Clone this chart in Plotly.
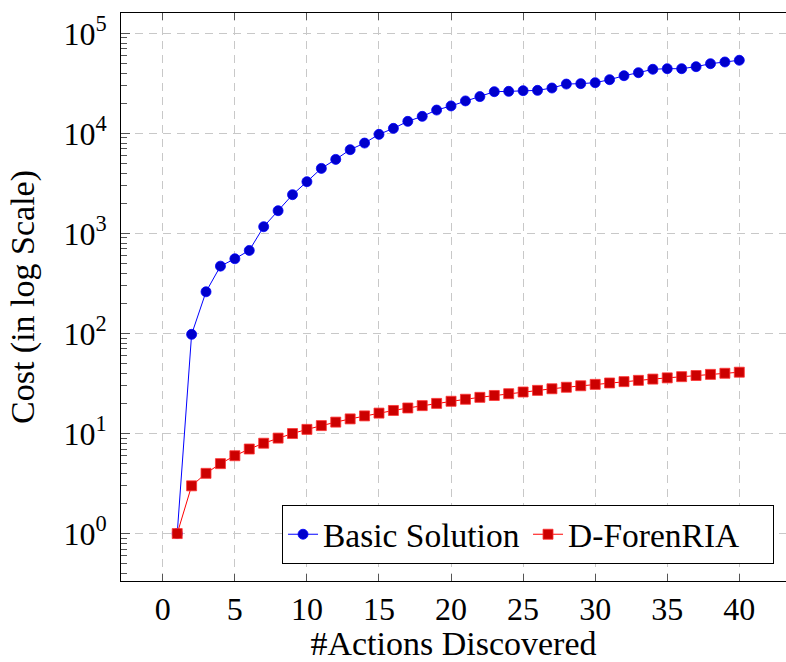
import plotly.graph_objects as go

actions = list(range(1, 41))
basic_solution = [1, 98, 261, 471, 558, 676, 1167, 1687, 2438, 3289,
                  4467, 5495, 6871, 8000, 9772, 11220, 13183, 14791, 17100, 18800,
                  21100, 23300, 26100, 26300, 26700, 26900, 28400, 31100, 31400, 32100,
                  34400, 37700, 40400, 43700, 44300, 44300, 46400, 49700, 51700, 53800]
d_forenria = [1, 3, 4, 5, 6, 7, 8, 9, 10, 11, 12, 13, 14, 15, 16, 17, 18, 19, 20, 21,
              22, 23, 24, 25, 26, 27, 28, 29, 30, 31, 32, 33, 34, 35, 36, 37, 38, 39, 40, 41]

x_ticks = [0, 5, 10, 15, 20, 25, 30, 35, 40]
y_ticks = [1, 10, 100, 1000, 10000, 100000]
y_ticktext = ["10<sup>0</sup>", "10<sup>1</sup>", "10<sup>2</sup>", "10<sup>3</sup>",
              "10<sup>4</sup>", "10<sup>5</sup>"]
y_minor = [k * 10.0 ** n for n in range(-1, 6) for k in range(2, 10)]

FONT = "'Liberation Serif', 'Times New Roman', 'DejaVu Serif', serif"
GRID = "#c8c8c8"

fig = go.Figure()
fig.add_trace(go.Scatter(
    x=actions, y=basic_solution, mode="lines+markers", name="Basic Solution",
    line=dict(color="#0000ff", width=1),
    marker=dict(symbol="circle", size=10, color="#0000cc",
                line=dict(color="#0000ff", width=0.8)),
))
fig.add_trace(go.Scatter(
    x=actions, y=d_forenria, mode="lines+markers", name="D-ForenRIA",
    line=dict(color="#ff0000", width=1),
    marker=dict(symbol="square", size=10, color="#cc0000",
                line=dict(color="#ff3333", width=0.8)),
))

fig.update_layout(
    width=786, height=662,
    margin=dict(l=121, r=0, t=13, b=81, autoexpand=False),
    paper_bgcolor="white", plot_bgcolor="white",
    font=dict(family=FONT, size=32, color="black"),
    showlegend=True,
    legend=dict(
        orientation="h", x=0.982, y=0.03, xanchor="right", yanchor="bottom",
        bgcolor="white", bordercolor="black", borderwidth=1,
        font=dict(family=FONT, size=33.5, color="black"),
        itemwidth=30, tracegroupgap=0, entrywidth=200,
    ),
    xaxis=dict(
        range=[-2.9, 43.24], tickmode="array", tickvals=x_ticks,
        ticks="inside", ticklen=7, tickcolor="#555555", tickwidth=1,
        showline=True, linecolor="black", linewidth=1, mirror="ticks",
        showgrid=True, gridcolor=GRID, gridwidth=1, griddash="8px,6px",
        zeroline=False, ticklabelstandoff=0, automargin=False,
        title=dict(text="#Actions Discovered", standoff=6,
                   font=dict(family=FONT, size=34, color="black")),
    ),
    yaxis=dict(
        type="log", range=[-0.474, 5.203], tickmode="array",
        tickvals=y_ticks, ticktext=y_ticktext,
        ticks="inside", ticklen=9, tickcolor="#555555", tickwidth=1,
        showline=True, linecolor="black", linewidth=1, mirror=False,
        showgrid=True, gridcolor=GRID, gridwidth=1, griddash="8px,6px",
        zeroline=False, ticklabelstandoff=7, automargin=False,
        minor=dict(tickmode="array", tickvals=y_minor, ticks="inside", ticklen=6,
                   tickcolor="#555555", tickwidth=1, showgrid=False),
        title=dict(text="Cost (in log Scale)", standoff=18,
                   font=dict(family=FONT, size=34, color="black")),
    ),
)

fig.write_html("out.html")
